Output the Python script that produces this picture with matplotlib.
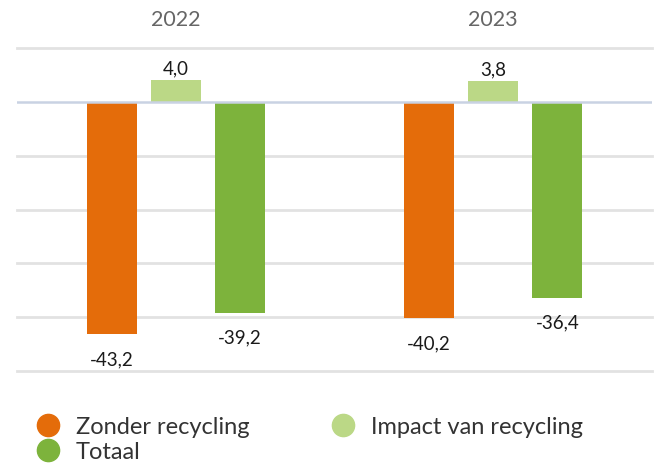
import matplotlib
matplotlib.use("Agg")
import matplotlib.pyplot as plt
from matplotlib.lines import Line2D
import matplotlib.transforms as mtransforms

plt.rcParams['font.family'] = ['Lato', 'DejaVu Sans']

categories = ["2022", "2023"]
series_names = ["Zonder recycling", "Impact van recycling", "Totaal"]
zonder = [-43.2, -40.2]
impact = [4.0, 3.8]
totaal = [-39.2, -36.4]
colors = ["#E46C0A", "#BBD886", "#7DB33C"]

fig = plt.figure(figsize=(6.58, 4.64), dpi=100)
ax = fig.add_axes([17/658, 1-372/464, (652-17)/658, (372-49)/464])

width = 0.1575
offset = 0.2016
xs = list(range(len(categories)))
for i, (vals, col) in enumerate(zip([zonder, impact, totaal], colors)):
    pos = [x + (i - 1) * offset for x in xs]
    ax.bar(pos, vals, width=width, color=col, zorder=3)
    for p, v in zip(pos, vals):
        lab = f"{v:.1f}".replace(".", ",")
        dy = 9 if v >= 0 else -17.5
        ax.annotate(lab, (p, v), xytext=(0, dy), textcoords="offset points",
                    ha="center", va="center", fontsize=13.5, color="#1a1a1a")

ax.set_xlim(-0.5, 1.5)
ax.set_ylim(-50, 10)
for g in [10, -10, -20, -30, -40, -50]:
    ax.axhline(g, color="#E2E2E2", lw=2, zorder=1, clip_on=False)
ax.axhline(0, color="#C9D2E3", lw=1.8, zorder=4)
for s in ax.spines.values():
    s.set_visible(False)
ax.set_xticks([])
ax.set_yticks([])

trans = mtransforms.blended_transform_factory(ax.transData, fig.transFigure)
for x, c in zip(xs, categories):
    ax.text(x, 1 - 20/464, c, transform=trans, ha="center", va="center",
            fontsize=15.5, color="#666666")

handles = [Line2D([], [], marker="o", ls="none", markersize=16,
                  markerfacecolor=c, markeredgecolor=c) for c in colors]
order = [0, 2, 1]
fig.legend([handles[i] for i in order], [series_names[i] for i in order],
           ncol=2, loc="upper left", bbox_to_anchor=(24/658, 1 - 408/464),
           frameon=False, fontsize=17, handletextpad=0.6, columnspacing=3.35,
           labelspacing=0.15, labelcolor="#333333", borderaxespad=0,
           handlelength=1.2)

fig.savefig("out.png", dpi=100)
